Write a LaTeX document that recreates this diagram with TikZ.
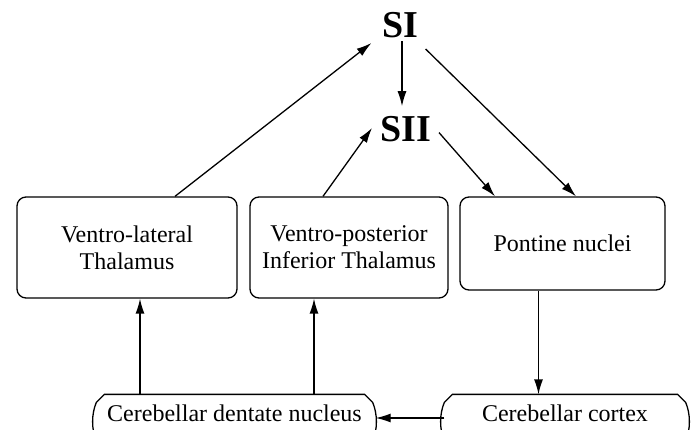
\documentclass[tikz,border=0pt]{standalone}
\usepackage{fontspec}
\setmainfont{Liberation Serif}
\usetikzlibrary{arrows.meta,calc}
\begin{document}
\begin{tikzpicture}[x=1pt,y=-1pt,
  line width=1.3pt,
  >={Latex[length=15pt,width=9pt]},
  box/.style={draw, rounded corners=9pt, align=center, inner sep=0pt,
    font=\fontsize{24}{27}\selectfont},
  big/.style={inner sep=2pt, font=\fontsize{38}{40}\selectfont\bfseries},
  bot/.style={inner sep=0pt, font=\fontsize{24}{27}\selectfont}]
\useasboundingbox (0,0) rectangle (691,430);
\clip (0,0) rectangle (691,430);

\node[box, minimum width=220pt, minimum height=101pt] (vl) at (127,247.5) {Ventro-lateral\\Thalamus};
\node[box, minimum width=198pt, minimum height=101pt] (vp) at (349,247.5) {Ventro-posterior\\Inferior Thalamus};
\node[box, minimum width=205pt, minimum height=93pt] (pn) at (562.5,243.5) {Pontine nuclei};

\node[big, anchor=base] (si) at (400,38) {SI};
\node[big, anchor=base] (sii) at (406,142) {SII};

\node[bot, minimum width=275pt, minimum height=36pt] (cd) at (234.5,413) {Cerebellar dentate nucleus};
\node[bot, minimum width=240pt, minimum height=36pt] (cc) at (565,413) {Cerebellar cortex};

% outlines of the bottom nodes
\foreach \n in {cd,cc}{
  \draw ([yshift=-48pt]\n.north west)
    .. controls ([xshift=-5pt,yshift=-34pt]\n.north west) and ([xshift=-5pt,yshift=-20pt]\n.north west) ..
    ([yshift=-8pt]\n.north west) -- ([xshift=8pt]\n.north west)
    -- ([xshift=-8pt]\n.north east) -- ([yshift=-8pt]\n.north east)
    .. controls ([xshift=5pt,yshift=-20pt]\n.north east) and ([xshift=5pt,yshift=-34pt]\n.north east) ..
    ([yshift=-48pt]\n.north east);
}

% connectors
\draw[->] ([xshift=48pt]vl.north) -- ([xshift=-8pt,yshift=-2pt]si.south west);
\draw[->] ([xshift=-26pt]vp.north) -- ([xshift=-6pt,yshift=17pt]sii.south west);
\draw[->] ([xshift=2pt]si.south) -- ([xshift=-4pt,yshift=8pt]sii.north);
\draw[->] ([xshift=5pt,yshift=-8pt]si.south east) -- ([xshift=13.5pt]pn.north);
\draw[->] ([xshift=5pt,yshift=-3pt]sii.east) -- ([xshift=-67.5pt]pn.north);
\draw[->] ([xshift=-24pt]pn.south) -- ([xshift=-24pt]pn.south |- cc.north);
\draw[->] ([yshift=-5pt]cc.west) -- ([xshift=3pt,yshift=-5pt]cd.east);
\draw[->] ([xshift=-94.5pt]cd.north) -- ([xshift=-94.5pt]cd.north |- vl.south);
\draw[->] ([xshift=79.5pt]cd.north) -- ([xshift=79.5pt]cd.north |- vp.south);
\end{tikzpicture}
\end{document}
